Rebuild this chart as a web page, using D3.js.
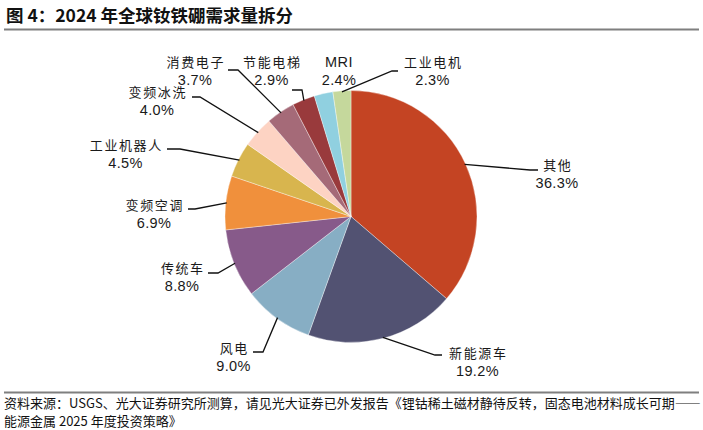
<html lang="zh">
<head>
<meta charset="UTF-8">
<title>2024 年全球钕铁硼需求量拆分</title>
<script src="https://d3js.org/d3.v7.min.js"></script>
<style>
  body { margin: 0; background: #fff; }
  svg { display: block; }
  .cn { font-family: "Noto Sans CJK SC", sans-serif; }
  .lbl { font-family: "Liberation Sans", "Noto Sans CJK SC", sans-serif; font-size: 13px; fill: #1a1a1a; }
  .pct { font-family: "Liberation Sans", sans-serif; font-size: 14.5px; letter-spacing: 0.4px; fill: #1a1a1a; }
</style>
</head>
<body>
<script>
// data
const categories = ["其他", "新能源车", "风电", "传统车", "变频空调", "工业机器人", "变频冰洗", "消费电子", "节能电梯", "MRI", "工业电机"];
const shares = [36.3, 19.2, 9.0, 8.8, 6.9, 4.5, 4.0, 3.7, 2.9, 2.4, 2.3];
const colors = ["#C44423", "#525272", "#87AEC4", "#875A8A", "#F0903C", "#D8B54E", "#FDD3C3", "#A56A78", "#993A3C", "#90D0E0", "#C5D89C"];

// label placement relative to pie centre: [name x, name baseline y]
const labelAt = [[206, -46.5], [126.5, 141.5], [-117.5, 136.5], [-169, 56.5], [-197, -6.5], [-225.5, -66.5],
                 [-194, -119.5], [-156, -149.5], [-79.5, -149.5], [-12, -149.5], [81.5, -149.5]];
// leader elbow [x, y] and end x relative to centre, null = no leader
const leaderAt = [[179, -46.5, 187], [84, 138.5, 91], [-88, 135.5, -98], [-133, 56.5, -143], [-156, -7.5, -163],
                  [-171, -67.5, -184], [-151, -119.5, -159], [-113, -146.5, -123], [-49, -126.5, -59], null, [41, -145.5, 47]];

const W = 703, H = 430;
const cx = 351, cy = 216.5, r = 126;

const svg = d3.select("body").append("svg").attr("width", W).attr("height", H);

// title
svg.append("text").attr("class", "cn")
  .attr("x", 6).attr("y", 22)
  .attr("font-size", "17.5px").attr("font-weight", "bold").attr("fill", "#111")
  .text("图 4：2024 年全球钕铁硼需求量拆分");
svg.append("line").attr("x1", 4).attr("x2", 699).attr("y1", 29.5).attr("y2", 29.5)
  .attr("stroke", "#7f7f7f").attr("stroke-width", 2);

const data = categories.map((c, i) => ({ name: c, value: shares[i], color: colors[i], i: i }));
const pie = d3.pie().sort(null).value(d => d.value);
const arcs = pie(data);
const arc = d3.arc().innerRadius(0).outerRadius(r);
const edge = d3.arc().innerRadius(r - 1).outerRadius(r - 1);

const g = svg.append("g").attr("transform", `translate(${cx},${cy})`);

g.selectAll("path.slice")
  .data(arcs)
  .enter()
  .append("path")
  .attr("class", "slice")
  .attr("d", arc)
  .attr("fill", d => d.data.color)
  .attr("stroke", "#ffffff")
  .attr("stroke-opacity", 0.6)
  .attr("stroke-width", 0.6);

// leader lines
g.selectAll("polyline.lead")
  .data(arcs.filter(d => leaderAt[d.data.i]))
  .enter()
  .append("polyline")
  .attr("class", "lead")
  .attr("points", d => {
    const p = edge.centroid(d);
    const L = leaderAt[d.data.i];
    return [p, [L[0], L[1]], [L[2], L[1]]].map(q => q.join(",")).join(" ");
  })
  .attr("fill", "none")
  .attr("stroke", "#111")
  .attr("stroke-width", 1.3);

// labels
const lab = g.selectAll("g.lab")
  .data(arcs)
  .enter()
  .append("g")
  .attr("class", "lab")
  .attr("transform", d => `translate(${labelAt[d.data.i][0]},${labelAt[d.data.i][1]})`);

lab.append("text")
  .attr("class", d => /[A-Z]/.test(d.data.name) ? "pct" : "lbl")
  .attr("text-anchor", "middle")
  .attr("letter-spacing", d => /[A-Z]/.test(d.data.name) ? null : "1.6px")
  .attr("dx", d => /[A-Z]/.test(d.data.name) ? 0 : 0.8)
  .text(d => d.data.name);

lab.append("text").attr("class", "pct")
  .attr("text-anchor", "middle")
  .attr("y", 17.5)
  .text(d => d3.format(".1f")(d.data.value) + "%");

// source
svg.append("line").attr("x1", 4).attr("x2", 699).attr("y1", 392.5).attr("y2", 392.5)
  .attr("stroke", "#7f7f7f").attr("stroke-width", 2);
const src = svg.append("text").attr("class", "cn").attr("font-size", "13px").attr("fill", "#111");
src.append("tspan").attr("x", 4).attr("y", 408)
  .text("资料来源：USGS、光大证券研究所测算，请见光大证券已外发报告《锂钴稀土磁材静待反转，固态电池材料成长可期——");
src.append("tspan").attr("x", 4).attr("y", 426)
  .text("能源金属 2025 年度投资策略》");
</script>
</body>
</html>
